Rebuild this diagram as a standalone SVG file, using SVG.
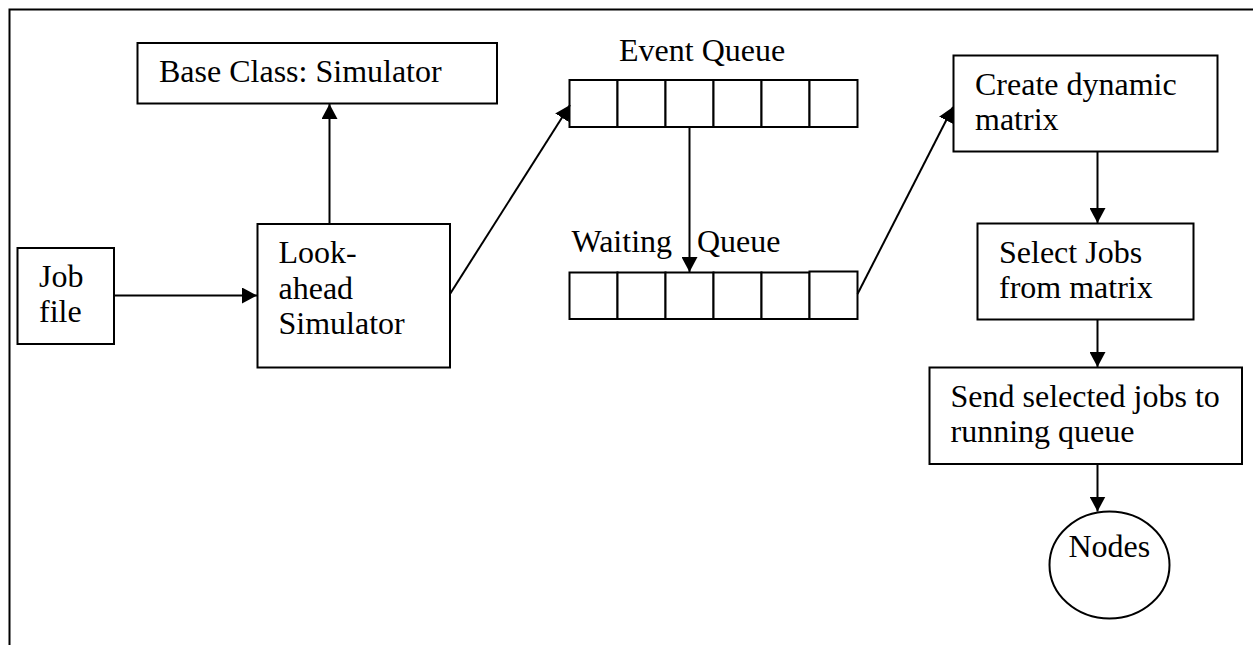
<svg xmlns="http://www.w3.org/2000/svg" width="1253" height="645" viewBox="0 0 1253 645">
  <style>
    .box { fill: #fff; stroke: #000; stroke-width: 2; }
    .cell { fill: #fff; stroke: #000; stroke-width: 2; }
    .lbl { font-family: "Liberation Serif", "Times New Roman", serif; font-size: 32px; fill: #000; }
    .conn { fill: none; stroke: #000; stroke-width: 2; marker-end: url(#arrow); }
  </style>
  <defs>
    <marker id="arrow" markerUnits="userSpaceOnUse" markerWidth="15" markerHeight="16" viewBox="0 0 15 16" refX="15" refY="8" orient="auto">
      <path d="M0,0 L15,8 L0,16 Z" fill="#000"/>
    </marker>
  </defs>
  <rect width="1253" height="645" fill="#fff"/>

  <!-- page frame (left and top edges) -->
  <path d="M9.5,645 V9.5 H1253" fill="none" stroke="#000" stroke-width="2"/>

  <g id="base-class">
    <rect class="box" x="137.5" y="43" width="359.5" height="60.5"/>
    <text class="lbl" x="159" y="82">Base Class: Simulator</text>
  </g>

  <g id="job-file">
    <rect class="box" x="17.5" y="248" width="96.5" height="96"/>
    <text class="lbl" x="39" y="287">Job</text>
    <text class="lbl" x="39" y="322">file</text>
  </g>

  <g id="lookahead">
    <rect class="box" x="257.5" y="224" width="192.5" height="143.5"/>
    <text class="lbl" x="278.5" y="263">Look-</text>
    <text class="lbl" x="278.5" y="298.5">ahead</text>
    <text class="lbl" x="278.5" y="333.5">Simulator</text>
  </g>

  <g id="event-queue">
    <text class="lbl" x="619" y="61">Event Queue</text>
    <rect class="cell" x="569.5" y="80" width="48" height="47"/>
    <rect class="cell" x="617.5" y="80" width="48" height="47"/>
    <rect class="cell" x="665.5" y="80" width="48" height="47"/>
    <rect class="cell" x="713.5" y="80" width="48" height="47"/>
    <rect class="cell" x="761.5" y="80" width="48" height="47"/>
    <rect class="cell" x="809.5" y="80" width="48" height="47"/>
  </g>

  <g id="waiting-queue">
    <text class="lbl" x="571.5" y="252">Waiting</text>
    <text class="lbl" x="697" y="252">Queue</text>
    <rect class="cell" x="569.5" y="272.5" width="48" height="46.5"/>
    <rect class="cell" x="617.5" y="272.5" width="48" height="46.5"/>
    <rect class="cell" x="665.5" y="272.5" width="48" height="46.5"/>
    <rect class="cell" x="713.5" y="272.5" width="48" height="46.5"/>
    <rect class="cell" x="761.5" y="272.5" width="48" height="46.5"/>
    <rect class="cell" x="809.5" y="271.5" width="48" height="47.5"/>
  </g>

  <g id="create-matrix">
    <rect class="box" x="953.5" y="55.5" width="264" height="96"/>
    <text class="lbl" x="975" y="95">Create dynamic</text>
    <text class="lbl" x="975" y="130">matrix</text>
  </g>

  <g id="select-jobs">
    <rect class="box" x="977.5" y="223.5" width="216" height="96"/>
    <text class="lbl" x="999" y="263">Select Jobs</text>
    <text class="lbl" x="999" y="298">from matrix</text>
  </g>

  <g id="send-jobs">
    <rect class="box" x="929.5" y="367.5" width="312.5" height="96.5"/>
    <text class="lbl" x="950.5" y="407">Send selected jobs to</text>
    <text class="lbl" x="950.5" y="441.5">running queue</text>
  </g>

  <g id="nodes">
    <ellipse class="box" cx="1109.5" cy="565" rx="60" ry="53.5"/>
    <text class="lbl" x="1068.5" y="556.5">Nodes</text>
  </g>

  <g id="connectors">
    <line class="conn" x1="114" y1="295.5" x2="257" y2="295.5"/>
    <line class="conn" x1="329.5" y1="224" x2="329.5" y2="104"/>
    <line class="conn" x1="450" y1="294" x2="570" y2="105"/>
    <line class="conn" x1="689.5" y1="127" x2="689.5" y2="272"/>
    <line class="conn" x1="857.5" y1="294" x2="953" y2="107"/>
    <line class="conn" x1="1097.5" y1="151.5" x2="1097.5" y2="223"/>
    <line class="conn" x1="1097.5" y1="319.5" x2="1097.5" y2="367"/>
    <line class="conn" x1="1097.5" y1="464" x2="1097.5" y2="511.5"/>
  </g>
</svg>
